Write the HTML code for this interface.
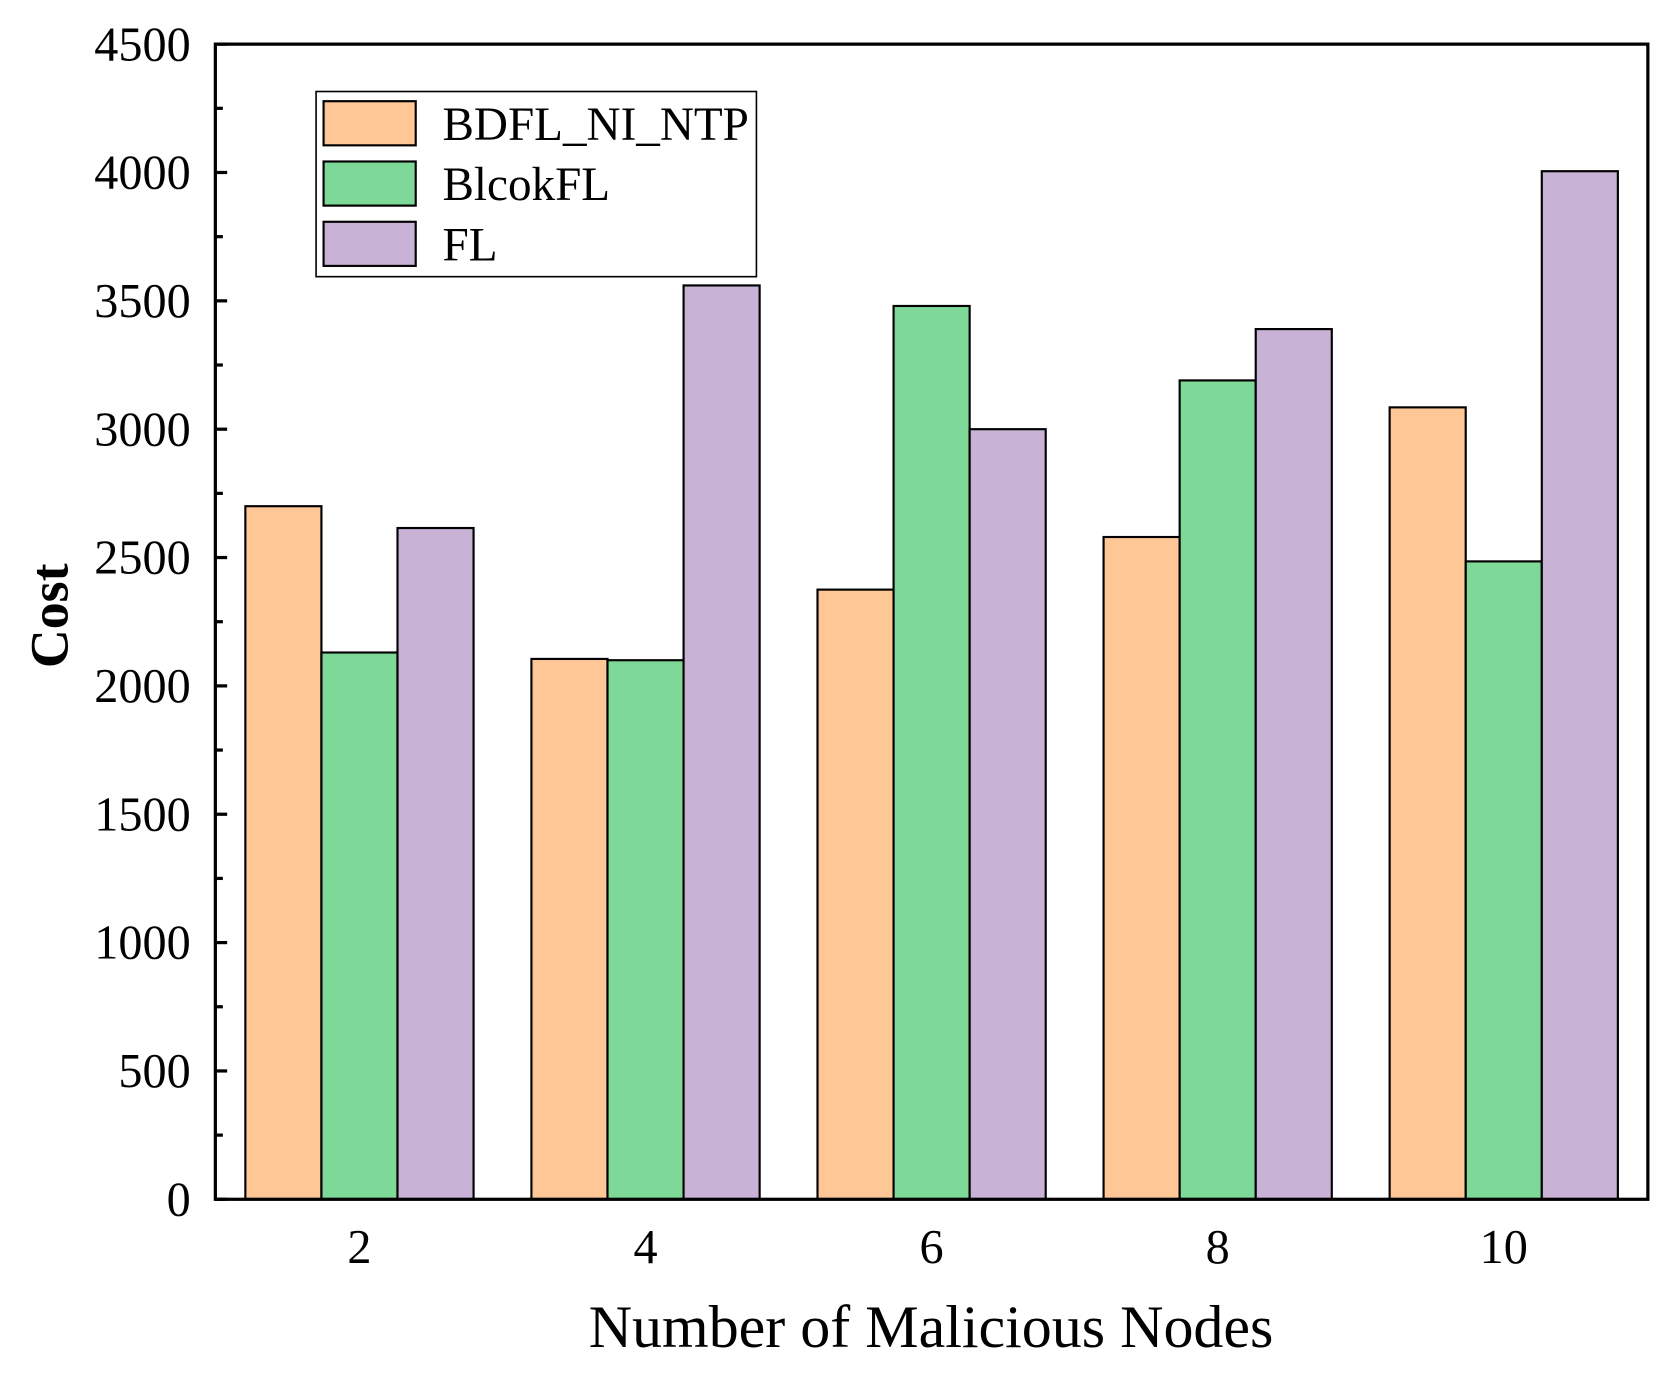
<!DOCTYPE html>
<html><head><meta charset="utf-8"><style>
html,body{margin:0;padding:0;background:#fff;}
svg{display:block;font-family:"Liberation Serif",serif;}
</style></head><body>
<svg id="chart" width="1680" height="1378" viewBox="0 0 1568 1280" preserveAspectRatio="none" xmlns="http://www.w3.org/2000/svg"></svg>
<script>
const categories = ["2","4","6","8","10"];
const seriesNames = ["BDFL_NI_NTP","BlcokFL","FL"];
const bdfl = [2700,2105,2375,2580,3085];
const blockfl = [2130,2100,3480,3190,2485];
const fl = [2615,3560,3000,3390,4005];
const yTicks = [0,500,1000,1500,2000,2500,3000,3500,4000,4500];
const colors = ["#fec795","#7ed897","#c8b2d6"];

const NS="http://www.w3.org/2000/svg";
const svg=document.getElementById('chart');
const X0=201,X1=1538,Y0=1114,Y1=41,YMAX=4500;
const yScale=v=>Y0-(v/YMAX)*(Y0-Y1);
const xCenter=i=>335.5+i*267;
const BW=71;
function mk(tag,attrs,parent){const e=document.createElementNS(NS,tag);for(const k in attrs)e.setAttribute(k,attrs[k]);(parent||svg).appendChild(e);return e;}

const series=[bdfl,blockfl,fl];
const barsG=mk('g',{});


series.forEach((arr,s)=>{
  arr.forEach((v,i)=>{
    const x=xCenter(i)-1.5*BW+s*BW;
    const r=mk('rect',{x:x,y:yScale(v),width:BW,height:Y0-yScale(v),fill:colors[s],stroke:'#000','stroke-width':2},barsG);
    
    
  });
});

const frame=mk('rect',{x:X0,y:Y1,width:X1-X0,height:Y0-Y1,fill:'none',stroke:'#000','stroke-width':3});



yTicks.forEach((t,i)=>{
  const y=yScale(t);
  mk('line',{x1:X0,x2:X0+11,y1:y,y2:y,stroke:'#000','stroke-width':3});
  if(i<yTicks.length-1){const ym=yScale(t+250);mk('line',{x1:X0,x2:X0+7,y1:ym,y2:ym,stroke:'#000','stroke-width':3});}
  const tx=mk('text',{x:178,y:y+15,'text-anchor':'end','font-size':45});
  tx.textContent=t;
  
  
});
categories.forEach((c,i)=>{
  const tx=mk('text',{x:xCenter(i),y:1173,'text-anchor':'middle','font-size':45});
  tx.textContent=c;
  
  
});

const xt=mk('text',{x:869,y:1251,'text-anchor':'middle','font-size':56});
xt.textContent='Number of Malicious Nodes';


const yt=mk('text',{x:0,y:0,'text-anchor':'middle','font-size':50,'font-weight':'bold',transform:'translate(63,572) rotate(-90)'});
yt.textContent='Cost';



const lg=mk('g',{});


mk('rect',{x:295,y:85,width:411,height:172,fill:'#fff',stroke:'#000','stroke-width':1.5},lg);
seriesNames.forEach((n,s)=>{
  const e=mk('g',{},lg);
  
  
  const y=94+s*56;
  mk('rect',{x:302,y:y,width:86,height:41,fill:colors[s],stroke:'#000','stroke-width':2},e);
  const t=mk('text',{x:413,y:y+36,'font-size':44},e);
  t.textContent=n;
});
</script>
</body></html>
